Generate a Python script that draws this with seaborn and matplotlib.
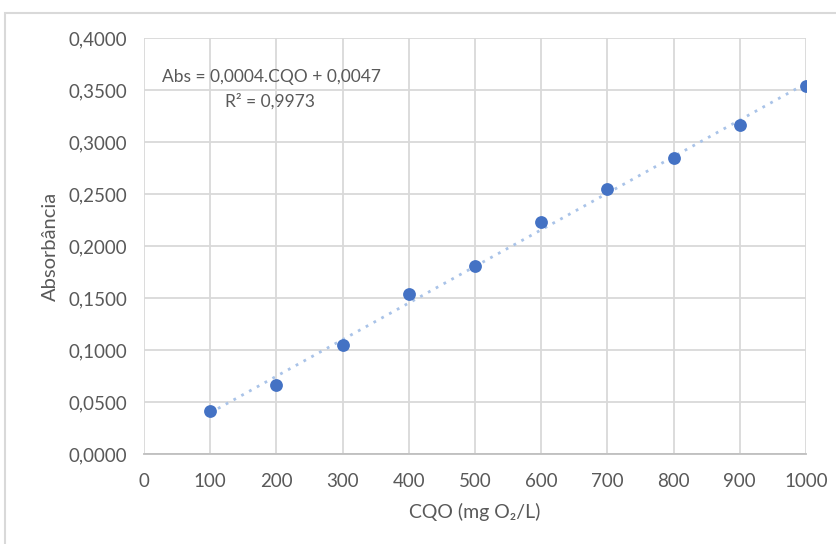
import numpy as np
import pandas as pd
import matplotlib
matplotlib.use("Agg")
import matplotlib.pyplot as plt
import seaborn as sns
from matplotlib.patches import Rectangle
from matplotlib.ticker import FuncFormatter, MultipleLocator

cqo = [100, 200, 300, 400, 500, 600, 700, 800, 900, 1000]
absorbancia = [0.0413, 0.0663, 0.1048, 0.1538, 0.1808, 0.2231, 0.2548, 0.2846, 0.3163, 0.3538]
equation_text = "Abs = 0,0004.CQO + 0,0047"
r2_text = "R² = 0,9973"
x_label = "CQO (mg O₂/L)"
y_label = "Absorbância"

df = pd.DataFrame({"CQO": cqo, "Abs": absorbancia})

sns.set_theme(style="white")
plt.rcParams['font.family'] = ['Lato', 'DejaVu Sans']

fig = plt.figure(figsize=(8.36, 5.44), dpi=100)
ax = fig.add_axes([144/836, 1-454/544, (806-144)/836, (454-38)/544])

# outer chart frame
fig.patches.append(Rectangle((5/836, -0.1), 1.2, 1 - 13/544 + 0.1, transform=fig.transFigure,
                             fill=False, edgecolor="#D9D9D9", linewidth=1.5, zorder=0))

# trendline
coef = np.polyfit(df["CQO"], df["Abs"], 1)
tx = np.array([df["CQO"].min(), df["CQO"].max()])
trend = pd.DataFrame({"CQO": tx, "Abs": np.polyval(coef, tx)})
sns.lineplot(data=trend, x="CQO", y="Abs", ax=ax, color="#A9C3E8", linewidth=2,
             linestyle=(0, (1, 2.2)), zorder=2)

sns.scatterplot(data=df, x="CQO", y="Abs", ax=ax, s=85, color="#4472C4",
                edgecolor="#4472C4", linewidth=0, zorder=3)

ax.set_xlim(0, 1000)
ax.set_ylim(0, 0.4)
ax.xaxis.set_major_locator(MultipleLocator(100))
ax.yaxis.set_major_locator(MultipleLocator(0.05))
ax.yaxis.set_major_formatter(FuncFormatter(lambda v, p: f"{v:.4f}".replace(".", ",")))
ax.grid(True, color="#D9D9D9", linewidth=1.3)
ax.set_axisbelow(True)
for s in ["top", "right", "left"]:
    ax.spines[s].set_visible(False)
ax.spines["bottom"].set_color("#BFBFBF")
ax.spines["bottom"].set_linewidth(1.3)
ax.tick_params(axis="both", length=0, labelsize=13.5, labelcolor="#595959")
ax.tick_params(axis="x", pad=14)
ax.tick_params(axis="y", pad=12)

ax.set_xlabel(x_label, fontsize=14, color="#595959", labelpad=9)
ax.set_ylabel(y_label, fontsize=14.5, color="#595959", labelpad=7)

ax.text(193, 0.3625, equation_text, ha="center", va="center", fontsize=12.5, color="#595959")
ax.text(190, 0.3394, r2_text, ha="center", va="center", fontsize=12.5, color="#595959")

fig.savefig("out.png", dpi=100)
